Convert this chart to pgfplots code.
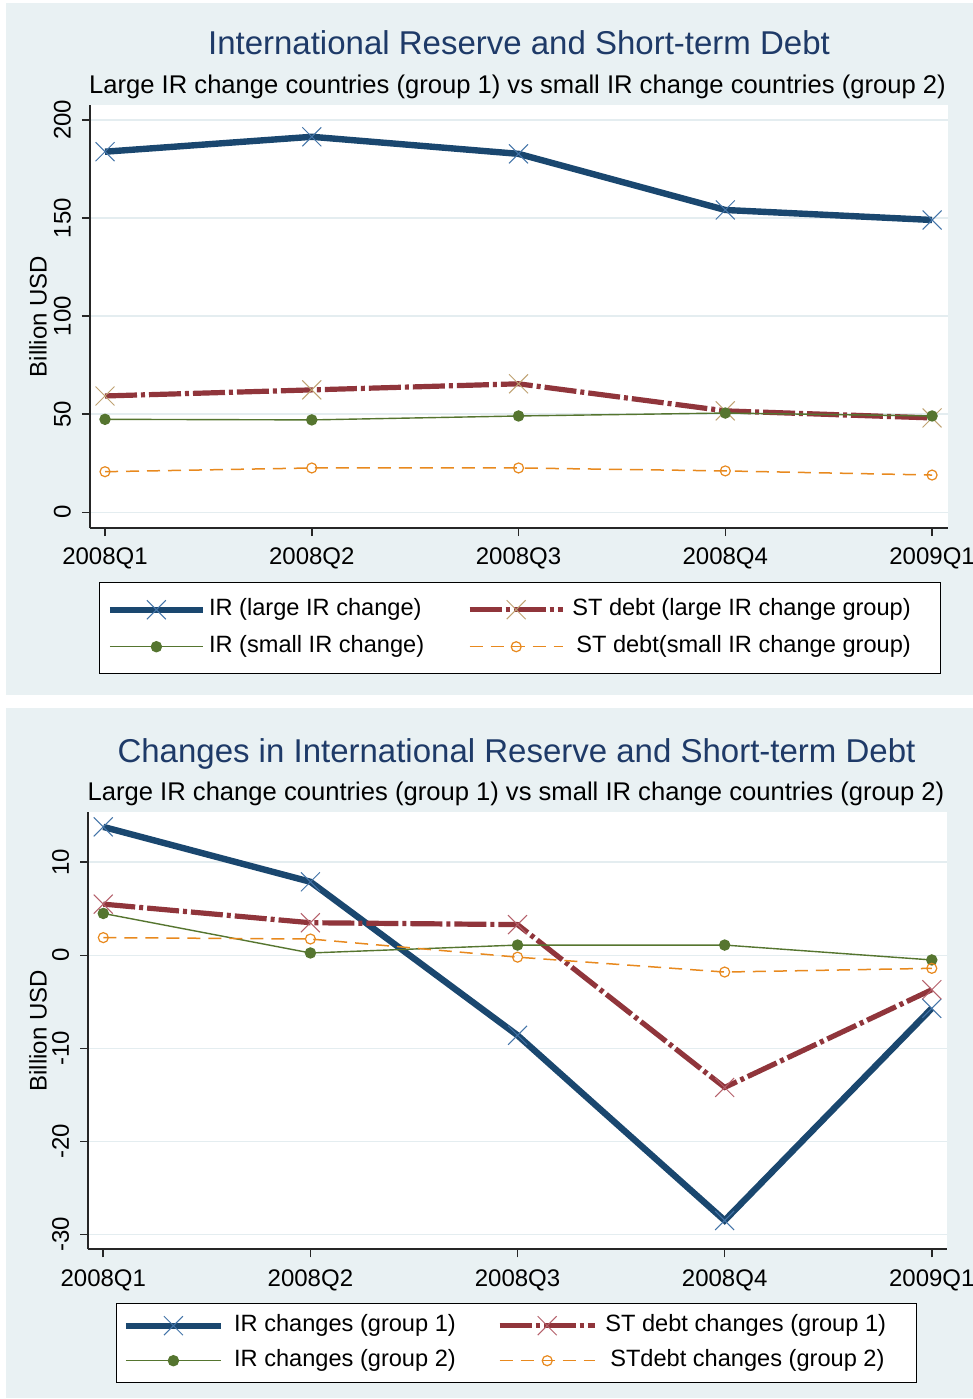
\documentclass[border=0pt]{standalone}
\usepackage{pgfplots}
\pgfplotsset{compat=1.18}
\usepackage{fontspec}
\setmainfont{Liberation Sans}
\definecolor{bgc}{HTML}{E9F1F3}
\definecolor{navyc}{HTML}{1A476F}
\definecolor{navym}{HTML}{4374A8}
\definecolor{maroonc}{HTML}{90353B}
\definecolor{tanm}{HTML}{BFA272}
\definecolor{maroonm}{HTML}{B5606B}
\definecolor{greenc}{HTML}{55752F}
\definecolor{orangec}{HTML}{E8891E}
\definecolor{titlec}{HTML}{1E3A68}
\definecolor{gridc}{HTML}{E4EDF0}
\pgfplotsset{
  stataaxis/.style={
    scale only axis,
    axis background/.style={fill=white},
    axis x line*=bottom, axis y line*=left,
    axis line style={-, line width=1pt, black!85},
    x axis line style={-}, y axis line style={-},
    xtick={0,1,2,3,4},
    xticklabels={2008Q1,2008Q2,2008Q3,2008Q4,2009Q1},
    tick align=outside, major tick length=4pt,
    tick style={line width=0.8pt, black!85},
    ymajorgrids, grid style={gridc, line width=0.8pt},
    /pgf/number format/assume math mode=true,
    tick label style={font=\fontsize{12}{14}\selectfont},
    yticklabel style={rotate=90, anchor=south},
    yticklabel shift=2pt,
    xticklabel shift=2.5pt,
    clip=false,
    legend columns=2,
  }
}
\begin{document}
\begin{tikzpicture}
\fill[white] (0,0) rectangle (486.5pt,-699.5pt);
\fill[bgc] (3pt,-1.5pt) rectangle (486.5pt,-347.5pt);
\fill[bgc] (3pt,-354pt) rectangle (486.5pt,-699pt);
\node[anchor=base, text=titlec, font=\fontsize{16.5}{19}\selectfont] at (259.5pt,-27.15pt) {International Reserve and Short-term Debt};
\node[anchor=base, font=\fontsize{12.8}{15}\selectfont] at (258.75pt,-46.75pt) {Large IR change countries (group 1) vs small IR change countries (group 2)};
\node[anchor=base, text=titlec, font=\fontsize{16.5}{19}\selectfont] at (258.25pt,-381pt) {Changes in International Reserve and Short-term Debt};
\node[anchor=base, font=\fontsize{12.8}{15}\selectfont] at (258pt,-400pt) {Large IR change countries (group 1) vs small IR change countries (group 2)};

\begin{axis}[stataaxis,
  at={(45pt,-264pt)}, anchor=south west,
  width=429pt, height=211.5pt,
  xmin=-0.0726, xmax=4.077, ymin=-8.0, ymax=207.6,
  ytick={0,50,100,150,200},
  ylabel={Billion USD},
  every axis y label/.style={at={(axis description cs:-0.0606,0.5)}, rotate=90, anchor=center, font=\fontsize{12}{14}\selectfont},
  legend image code/.code={\draw[mark repeat=2,mark phase=2,#1] plot coordinates {(0pt,0pt) (23.25pt,0pt) (46.5pt,0pt)};},
  legend style={at={(axis description cs:0.0105,-0.1277)}, anchor=north west,
    draw=black, line width=0.7pt, fill=white,
    inner xsep=3.5pt, inner ysep=5pt,
    font=\fontsize{11.8}{14}\selectfont,
    nodes={inner xsep=1.5pt, inner ysep=2.5pt, text height=9pt, text depth=3pt},
    row sep=1.5pt,
    /tikz/every even column/.append style={column sep=21.5pt},
    cells={anchor=west}},
]
\addplot[navyc, line width=3.2pt, mark=x, mark size=6.7pt, mark options={navym, line width=0.5pt, solid}]
  coordinates {(0,183.8) (1,191.4) (2,182.7) (3,154.1) (4,149.0)};
\addlegendentry{\makebox[106pt][l]{IR (large IR change)}}
\addplot[maroonc, line width=2.6pt, dash pattern=on 16pt off 2pt on 2pt off 2pt, mark=x, mark size=6.7pt, mark options={tanm, line width=0.5pt, solid}]
  coordinates {(0,59.3) (1,62.4) (2,65.5) (3,51.7) (4,48.1)};
\addlegendentry{\makebox[181pt][l]{\hspace{2pt}ST debt (large IR change group)}}
\addplot[greenc, line width=0.7pt, mark=*, mark size=2.5pt, mark options={fill=greenc, draw=greenc, solid}]
  coordinates {(0,47.4) (1,47.1) (2,49.1) (3,50.6) (4,49.1)};
\addlegendentry{\makebox[106pt][l]{IR (small IR change)}}
\addplot[orangec, line width=0.75pt, dash pattern=on 6.5pt off 4pt, mark=o, mark size=2.5pt, mark options={orangec, line width=0.6pt, solid, fill=none}]
  coordinates {(0,20.7) (1,22.6) (2,22.6) (3,21.1) (4,19.0)};
\addlegendentry{\makebox[181pt][l]{\hspace{4pt}ST debt(small IR change group)}}
\end{axis}

\begin{axis}[stataaxis,
  at={(44.15pt,-624.65pt)}, anchor=south west,
  width=429.2pt, height=218.65pt,
  xmin=-0.0724, xmax=4.072, ymin=-31.6, ymax=15.4,
  ytick={-30,-20,-10,0,10},
  ylabel={Billion USD},
  every axis y label/.style={at={(axis description cs:-0.0586,0.5)}, rotate=90, anchor=center, font=\fontsize{12}{14}\selectfont},
  legend image code/.code={\draw[mark repeat=2,mark phase=2,#1] plot coordinates {(0pt,0pt) (23.75pt,0pt) (47.5pt,0pt)};},
  legend style={at={(axis description cs:0.0323,-0.1228)}, anchor=north west,
    draw=black, line width=0.7pt, fill=white,
    inner xsep=3pt, inner ysep=2.5pt,
    font=\fontsize{11.8}{14}\selectfont,
    nodes={inner xsep=1.5pt, inner ysep=2.5pt, text height=9pt, text depth=3pt},
    row sep=0.5pt,
    /tikz/every even column/.append style={column sep=15.5pt},
    cells={anchor=west}},
]
\addplot[navyc, line width=3.2pt, mark=x, mark size=6.7pt, mark options={navym, line width=0.5pt, solid}]
  coordinates {(0,13.8) (1,7.9) (2,-8.6) (3,-28.5) (4,-5.7)};
\addlegendentry{\makebox[118pt][l]{\hspace{3.5pt}IR changes (group 1)}}
\addplot[maroonc, line width=2.6pt, dash pattern=on 16pt off 2pt on 2pt off 2pt, mark=x, mark size=6.7pt, mark options={maroonm, line width=0.5pt, solid}]
  coordinates {(0,5.5) (1,3.5) (2,3.3) (3,-14.2) (4,-3.7)};
\addlegendentry{\makebox[153.5pt][l]{\hspace{2.5pt}ST debt changes (group 1)}}
\addplot[greenc, line width=0.7pt, mark=*, mark size=2.5pt, mark options={fill=greenc, draw=greenc, solid}]
  coordinates {(0,4.5) (1,0.25) (2,1.1) (3,1.1) (4,-0.5)};
\addlegendentry{\makebox[118pt][l]{\hspace{3.5pt}IR changes (group 2)}}
\addplot[orangec, line width=0.75pt, dash pattern=on 6.5pt off 4pt, mark=o, mark size=2.5pt, mark options={orangec, line width=0.6pt, solid, fill=none}]
  coordinates {(0,1.9) (1,1.75) (2,-0.2) (3,-1.8) (4,-1.4)};
\addlegendentry{\makebox[153.5pt][l]{\hspace{5pt}STdebt changes (group 2)}}
\end{axis}
\pgfresetboundingbox
\useasboundingbox (0,0) rectangle (486.5pt,-699.5pt);
\end{tikzpicture}
\end{document}
